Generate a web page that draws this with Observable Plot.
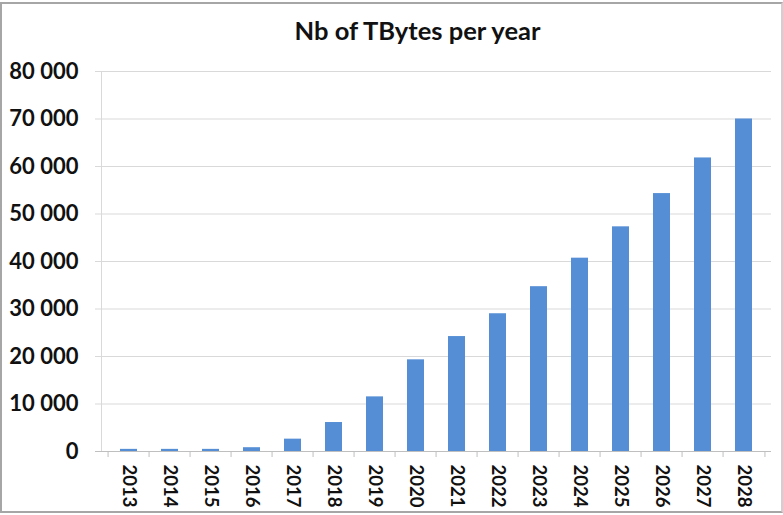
<!DOCTYPE html>
<html>
<head>
<meta charset="utf-8">
<script src="https://cdn.jsdelivr.net/npm/d3@7"></script>
<script src="https://cdn.jsdelivr.net/npm/@observablehq/plot@0.6"></script>
<style>
  html, body { margin: 0; padding: 0; background: #fff; }
  #chart { position: relative; width: 783px; height: 515px; overflow: hidden; font-family: Lato, "Open Sans", sans-serif; }
  #border { position: absolute; left: 0; top: 2px; width: 779px; height: 507px; border: 2px solid #a6a6a6; border-right-color: #d0d0d0; pointer-events: none; }
  #title { position: absolute; left: 0; width: 835px; top: 15px; text-align: center; font-size: 25.5px; font-weight: bold; color: #111; }
  #plot { position: absolute; left: 0; top: 50px; }
</style>
</head>
<body>
<div id="chart">
  <div id="title">Nb of TBytes per year</div>
  <div id="plot"></div>
  <div id="border"></div>
</div>
<script>
// Yearly volume in terabytes
const years = ["2013","2014","2015","2016","2017","2018","2019","2020","2021","2022","2023","2024","2025","2026","2027","2028"];
const tbytes = [450, 450, 450, 800, 2600, 6100, 11500, 19300, 24200, 29000, 34700, 40700, 47300, 54300, 61800, 70000];
const yTicks = [0, 10000, 20000, 30000, 40000, 50000, 60000, 70000, 80000];

const data = years.map((year, i) => ({year, value: tbytes[i]}));

const width = 783, height = 465;
const marginLeft = 101, marginRight = 12, marginTop = 21, marginBottom = 64;
const step = (width - marginLeft - marginRight) / years.length;

const fmt = d3.formatLocale({thousands: "\u00a0", grouping: [3], decimal: ","}).format(",d");

const chart = Plot.plot({
  width, height, marginLeft, marginRight, marginTop, marginBottom,
  style: {fontFamily: "Lato, 'Open Sans', sans-serif", color: "#111", background: "transparent"},
  x: {domain: years, paddingInner: 0.59, paddingOuter: 0.295, label: null},
  y: {domain: [0, 80000], label: null},
  marks: [
    Plot.gridY(yTicks, {stroke: "#d9d9d9", strokeOpacity: 1}),
    Plot.axisY(yTicks, {tickSize: 6, tickPadding: 17, stroke: "#d9d9d9", tickFormat: fmt, fontSize: 22, fontWeight: "bold", label: null}),
    Plot.frame({anchor: "left", stroke: "#d9d9d9", strokeOpacity: 1}),
    Plot.barY(data, {x: "year", y: "value", fill: "#558ed5"}),
    Plot.ruleY([0], {stroke: "#bfbfbf", insetLeft: -6}),
    // boundary ticks between the year bands
    Plot.axisX(years, {tickSize: 6, text: null, dx: -step / 2, stroke: "#bfbfbf"}),
    Plot.axisX([years[years.length - 1]], {tickSize: 6, text: null, dx: step / 2, stroke: "#bfbfbf"}),
    Plot.axisX(years, {tickSize: 0, tickPadding: 13, tickRotate: 90, fontSize: 18.5, fontWeight: "bold", label: null})
  ]
});
document.getElementById("plot").appendChild(chart);
</script>
</body>
</html>
